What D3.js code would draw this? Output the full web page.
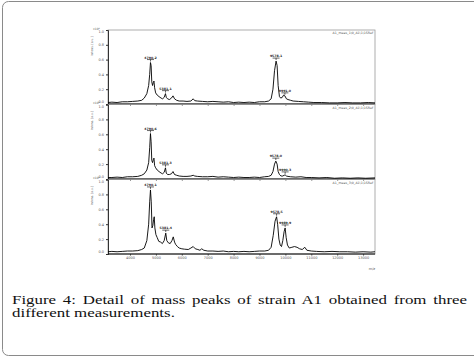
<!DOCTYPE html>
<html>
<head>
<meta charset="utf-8">
<script src="https://cdn.jsdelivr.net/npm/d3@7"></script>
<style>
  body { margin: 0; background: #fff; }
  svg { display: block; }
</style>
</head>
<body>
<svg id="fig"></svg>
<script>
// m/z ticks and intensity ticks
const mzTicks = [4000, 5000, 6000, 7000, 8000, 9000, 10000, 11000, 12000, 13000];
const yTicks = [0, 0.2, 0.4, 0.6, 0.8, 1.0];

// headers shown in the top right corner of each spectrum
const headers = ["A1_meas_1\\0_A1\\1\\1SRef", "A1_meas_2\\0_A1\\1\\1SRef", "A1_meas_3\\0_A1\\1\\1SRef"];

// spectrum 1 : [m/z, relative intensity]
const spectrum1 = [
  [3150, 0.02], [3300, 0.025], [3500, 0.02], [3700, 0.03], [3900, 0.03], [4100, 0.035],
  [4300, 0.04], [4450, 0.05], [4550, 0.08], [4650, 0.14], [4720, 0.25], [4760, 0.40],
  [4790, 0.56], [4815, 0.52], [4840, 0.30], [4870, 0.25], [4900, 0.29], [4925, 0.31],
  [4950, 0.22], [4990, 0.15], [5050, 0.12], [5120, 0.10], [5200, 0.08], [5260, 0.07],
  [5320, 0.09], [5370, 0.14], [5400, 0.09], [5450, 0.07], [5520, 0.06], [5600, 0.08],
  [5660, 0.11], [5720, 0.07], [5800, 0.05], [5900, 0.04], [6050, 0.04], [6200, 0.035],
  [6350, 0.04], [6440, 0.07], [6500, 0.045], [6600, 0.04], [6800, 0.035], [7000, 0.03],
  [7200, 0.035], [7400, 0.03], [7600, 0.025], [7800, 0.03], [8000, 0.02], [8200, 0.025],
  [8400, 0.02], [8600, 0.025], [8800, 0.02], [9000, 0.03], [9200, 0.03], [9350, 0.04],
  [9450, 0.07], [9520, 0.2], [9580, 0.45], [9640, 0.58], [9680, 0.52], [9720, 0.25],
  [9770, 0.10], [9820, 0.08], [9880, 0.09], [9930, 0.12], [9980, 0.11], [10040, 0.07],
  [10100, 0.06], [10200, 0.05], [10300, 0.04], [10500, 0.035], [10700, 0.03], [10900, 0.025],
  [11100, 0.02], [11400, 0.02], [11700, 0.015], [12000, 0.015], [12300, 0.02], [12600, 0.015],
  [12900, 0.015], [13200, 0.02], [13460, 0.015]
];

// spectrum 2
const spectrum2 = [
  [3150, 0.02], [3300, 0.02], [3500, 0.025], [3700, 0.02], [3900, 0.03], [4100, 0.03],
  [4300, 0.035], [4450, 0.05], [4550, 0.07], [4650, 0.12], [4720, 0.22], [4760, 0.42],
  [4790, 0.61], [4815, 0.50], [4840, 0.25], [4870, 0.22], [4900, 0.26], [4925, 0.28],
  [4950, 0.18], [4990, 0.15], [5050, 0.12], [5120, 0.10], [5200, 0.08], [5260, 0.07],
  [5320, 0.09], [5370, 0.15], [5400, 0.08], [5450, 0.06], [5520, 0.06], [5600, 0.07],
  [5660, 0.10], [5720, 0.06], [5800, 0.05], [5900, 0.04], [6050, 0.035], [6200, 0.035],
  [6350, 0.04], [6440, 0.05], [6500, 0.04], [6600, 0.035], [6800, 0.03], [7000, 0.03],
  [7200, 0.035], [7400, 0.025], [7600, 0.03], [7800, 0.025], [8000, 0.02], [8200, 0.025],
  [8400, 0.02], [8600, 0.02], [8800, 0.025], [9000, 0.02], [9200, 0.03], [9350, 0.035],
  [9450, 0.05], [9520, 0.1], [9580, 0.2], [9630, 0.24], [9680, 0.2], [9720, 0.1],
  [9770, 0.06], [9830, 0.04], [9900, 0.04], [9950, 0.05], [9990, 0.055], [10040, 0.04],
  [10100, 0.035], [10200, 0.03], [10400, 0.025], [10600, 0.03], [10800, 0.02], [11000, 0.02],
  [11300, 0.015], [11600, 0.02], [11900, 0.01], [12200, 0.015], [12500, 0.01], [12800, 0.015],
  [13100, 0.01], [13460, 0.015]
];

// spectrum 3
const spectrum3 = [
  [3150, 0.03], [3300, 0.035], [3500, 0.03], [3700, 0.035], [3900, 0.04], [4100, 0.04],
  [4300, 0.045], [4450, 0.06], [4550, 0.08], [4650, 0.18], [4720, 0.40], [4760, 0.70],
  [4790, 0.86], [4820, 0.70], [4850, 0.35], [4880, 0.38], [4910, 0.46], [4935, 0.50],
  [4960, 0.35], [5000, 0.26], [5050, 0.22], [5110, 0.17], [5180, 0.16], [5250, 0.14],
  [5320, 0.18], [5380, 0.28], [5420, 0.18], [5480, 0.15], [5550, 0.14], [5620, 0.18],
  [5670, 0.23], [5720, 0.16], [5760, 0.13], [5830, 0.10], [5900, 0.08], [6000, 0.07],
  [6100, 0.065], [6250, 0.06], [6350, 0.08], [6440, 0.10], [6520, 0.07], [6620, 0.06],
  [6700, 0.05], [6770, 0.07], [6850, 0.05], [7000, 0.04], [7200, 0.04], [7400, 0.035],
  [7600, 0.04], [7800, 0.03], [8000, 0.035], [8200, 0.03], [8400, 0.035], [8600, 0.03],
  [8800, 0.035], [9000, 0.04], [9200, 0.04], [9350, 0.05], [9450, 0.09], [9530, 0.25],
  [9600, 0.44], [9660, 0.50], [9700, 0.40], [9750, 0.20], [9800, 0.12], [9850, 0.10],
  [9900, 0.18], [9950, 0.30], [9990, 0.35], [10030, 0.22], [10080, 0.12], [10150, 0.08],
  [10250, 0.09], [10350, 0.10], [10450, 0.09], [10550, 0.07], [10650, 0.06], [10750, 0.09],
  [10830, 0.05], [11000, 0.04], [11200, 0.035], [11500, 0.03], [11800, 0.035], [12100, 0.03],
  [12400, 0.03], [12700, 0.025], [13000, 0.03], [13300, 0.025], [13460, 0.03]
];

// labelled peaks of each spectrum
const peaks1 = [[4790, "4790.2"], [5370, "5381.1"], [9640, "9578.1"], [9980, "9991.0"]];
const peaks2 = [[4790, "4790.6"], [5370, "5381.3"], [9630, "9578.0"], [9990, "9990.3"]];
const peaks3 = [[4790, "4790.1"], [5380, "5381.4"], [9660, "9578.5"], [9990, "9989.9"]];

const spectra = [spectrum1, spectrum2, spectrum3];
const peakSets = [peaks1, peaks2, peaks3];

const width = 474, height = 357;
const left = 108, right = 375;
const panelTops = [30, 104.5, 179.5];
const panelBottoms = [104, 179, 254];

const svg = d3.select("#fig")
  .attr("width", width)
  .attr("height", height);

// outer frame of the figure box
svg.append("rect")
  .attr("x", 2.5)
  .attr("y", 1.5)
  .attr("width", 490)
  .attr("height", 354)
  .attr("rx", 6)
  .attr("fill", "none")
  .attr("stroke", "#8a8a8a")
  .attr("stroke-width", 1);

const x = d3.scaleLinear()
  .domain([3150, 13460])
  .range([left, right]);

spectra.forEach((data, i) => {
  const top = panelTops[i], bottom = panelBottoms[i];
  const y = d3.scaleLinear().domain([0, 1]).range([bottom, top]);
  const g = svg.append("g");

  // grey frame of the panel
  g.append("rect")
    .attr("x", left)
    .attr("y", top)
    .attr("width", right - left)
    .attr("height", bottom - top)
    .attr("fill", "none")
    .attr("stroke", "#9a9a9a")
    .attr("stroke-width", 0.8);

  // y axis
  const yAxis = g.append("g")
    .attr("transform", `translate(${left},0)`)
    .call(d3.axisLeft(y).tickValues(yTicks).tickSize(2).tickFormat(d3.format(".1f")));
  yAxis.select(".domain").attr("stroke", "#333");
  yAxis.selectAll("line").attr("stroke", "#333");
  yAxis.selectAll("text")
    .attr("font-size", 3.5)
    .attr("font-family", "DejaVu Sans")
    .attr("fill", "#555")
    .attr("x", -4)
    .attr("dy", d => d === 1 ? "2.6" : d === 0 ? "-1.2" : "0.32em");

  // scale factor and axis title
  g.append("text")
    .attr("x", 93)
    .attr("y", top - 0.5)
    .attr("font-size", 3)
    .attr("font-family", "DejaVu Sans")
    .attr("fill", "#555")
    .text("x10\u2074");
  g.append("text")
    .attr("transform", `translate(93,${top + 16}) rotate(-90)`)
    .attr("text-anchor", "middle")
    .attr("font-size", 3)
    .attr("font-family", "DejaVu Sans")
    .attr("fill", "#555")
    .text("Intens. [a.u.]");

  // header in the top right corner
  g.append("text")
    .attr("x", right - 2)
    .attr("y", top + 4)
    .attr("text-anchor", "end")
    .attr("font-size", 3.2)
    .attr("font-family", "DejaVu Sans")
    .attr("fill", "#555")
    .text(headers[i]);

  // baseline
  g.append("line")
    .attr("x1", left)
    .attr("x2", right)
    .attr("y1", bottom)
    .attr("y2", bottom)
    .attr("stroke", "#000")
    .attr("stroke-width", 1);

  const line = d3.line()
    .x(d => x(d[0]))
    .y(d => y(d[1]));

  g.append("path")
    .datum(data)
    .attr("d", line)
    .attr("fill", "none")
    .attr("stroke", "#000")
    .attr("stroke-width", 0.9);

  // peak labels
  peakSets[i].forEach(p => {
    const near = data.reduce((a, b) => Math.abs(b[0] - p[0]) < Math.abs(a[0] - p[0]) ? b : a);
    const py = y(near[1]);
    g.append("line")
      .attr("x1", x(p[0]))
      .attr("x2", x(p[0]))
      .attr("y1", py - 1)
      .attr("y2", py - 3)
      .attr("stroke", "#000")
      .attr("stroke-width", 0.6);
    g.append("line")
      .attr("x1", x(p[0]) - 3.5)
      .attr("x2", x(p[0]) + 3.5)
      .attr("y1", py - 3)
      .attr("y2", py - 3)
      .attr("stroke", "#000")
      .attr("stroke-width", 0.6);
    g.append("text")
      .attr("x", x(p[0]))
      .attr("y", py - 4)
      .attr("text-anchor", "middle")
      .attr("font-size", 3.2)
      .attr("font-family", "DejaVu Sans")
      .attr("font-weight", "bold")
      .attr("fill", "#222")
      .text(p[1]);
  });

  // x axis ticks on every panel, labels on the last one
  const xAxis = g.append("g")
    .attr("transform", `translate(0,${bottom})`)
    .call(d3.axisBottom(x).tickValues(mzTicks).tickSize(1.5).tickFormat(i === 2 ? d3.format("d") : ""));
  xAxis.select(".domain").remove();
  xAxis.selectAll("line").attr("stroke", "#333");
  xAxis.selectAll("text")
    .attr("font-size", 3.5)
    .attr("font-family", "DejaVu Sans")
    .attr("fill", "#555")
    .attr("y", 3);
});

svg.append("text")
  .attr("x", 372)
  .attr("y", 270)
  .attr("text-anchor", "middle")
  .attr("font-size", 3.5)
  .attr("font-family", "DejaVu Sans")
  .attr("fill", "#555")
  .text("m/z");

// caption: stretch glyphs horizontally to match line 2, then justify line 1
const captionLines = [
  "Figure 4: Detail of mass peaks of strain A1 obtained from three",
  "different measurements."
];
const capX = 12, capRight = 467, line2Right = 175;
const capGroup = svg.append("g");
const capTexts = captionLines.map((t, i) => capGroup.append("text")
  .attr("x", 0)
  .attr("y", 304 + i * 13.5)
  .attr("font-family", "Liberation Serif, DejaVu Serif, serif")
  .attr("font-size", 13.5)
  .attr("fill", "#111")
  .text(t));

const w2 = capTexts[1].node().getComputedTextLength();
const sx = (line2Right - capX) / w2;
capGroup.attr("transform", `translate(${capX},0) scale(${sx},1)`);
const w1 = capTexts[0].node().getComputedTextLength();
const spaces = captionLines[0].split(" ").length - 1;
capTexts[0].attr("word-spacing", ((capRight - capX) / sx - w1) / spaces);
</script>
</body>
</html>
